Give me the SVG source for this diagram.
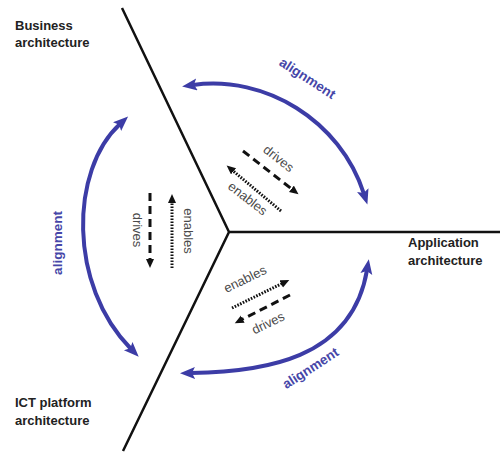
<svg xmlns="http://www.w3.org/2000/svg" width="500" height="452" viewBox="0 0 500 452">
<style>
.lbl{font-family:"Liberation Sans",Arial,sans-serif;font-size:13px;font-weight:bold;fill:#222}
.al{font-family:"Liberation Sans",Arial,sans-serif;font-size:13.5px;font-weight:bold;fill:#4646a8}
.rel{font-family:"Liberation Sans",Arial,sans-serif;font-size:13px;fill:#4a4a4a}
.div{stroke:#111;stroke-width:2.5;fill:none}
.align{stroke:#3c3ca6;stroke-width:4;fill:none;marker-start:url(#ba);marker-end:url(#ba)}
.dr{stroke:#111;stroke-width:3;stroke-dasharray:8 5;fill:none;marker-end:url(#ka)}
.en{stroke:#111;stroke-width:3;stroke-dasharray:1.6 1.4;fill:none;marker-end:url(#ka)}
</style>
<defs>
<marker id="ba" markerUnits="userSpaceOnUse" markerWidth="16" markerHeight="14" refX="4" refY="6" orient="auto-start-reverse" viewBox="0 0 16 14">
<path d="M0,0 L15,6 L0,12 L3,6 z" fill="#3c3ca6"/>
</marker>
<marker id="ka" markerUnits="userSpaceOnUse" markerWidth="10" markerHeight="9" refX="2" refY="4" orient="auto" viewBox="0 0 10 9">
<path d="M0,0 L9,4 L0,8 z" fill="#111"/>
</marker>
</defs>
<rect width="500" height="452" fill="#fff"/>
<g id="dividers">
<path class="div" d="M122,8 L229,232 L123,451 M229,232 L500,232"/>
</g>
<g id="business"><text class="lbl" x="15" y="30">Business</text><text class="lbl" x="15" y="47">architecture</text></g>
<g id="application"><text class="lbl" x="408" y="247">Application</text><text class="lbl" x="408" y="265">architecture</text></g>
<g id="ict"><text class="lbl" x="15" y="407">ICT platform</text><text class="lbl" x="15" y="425">architecture</text></g>
<g id="connectors">
<path class="align" d="M193,85 C265,75 340,120 364,194"/>
<path class="align" d="M120,124 C70,170 68,285 131,349"/>
<path class="align" d="M191,373 C262,372 352,360 367,270"/>
<path class="dr" d="M150,193 L150,261"/>
<path class="en" d="M172,268 L172,201"/>
<path class="dr" d="M243,151 L293,190"/>
<path class="en" d="M281,211 L232,170"/>
<path class="en" d="M232,308 L283,283"/>
<path class="dr" d="M290,295 L241,320"/>
</g>
<g id="labels">
<text class="al" text-anchor="middle" transform="translate(305,82) rotate(33)">alignment</text>
<text class="al" text-anchor="middle" transform="translate(62,243) rotate(-90)">alignment</text>
<text class="al" text-anchor="middle" transform="translate(313,372) rotate(-33)">alignment</text>
<text class="rel" text-anchor="middle" transform="translate(133,230) rotate(90)">drives</text>
<text class="rel" text-anchor="middle" transform="translate(184,231) rotate(90)">enables</text>
<text class="rel" text-anchor="middle" transform="translate(276,162) rotate(38)">drives</text>
<text class="rel" text-anchor="middle" transform="translate(245,202) rotate(38)">enables</text>
<text class="rel" text-anchor="middle" transform="translate(247,283) rotate(-26)">enables</text>
<text class="rel" text-anchor="middle" transform="translate(270,327) rotate(-26)">drives</text>
</g>
</svg>
